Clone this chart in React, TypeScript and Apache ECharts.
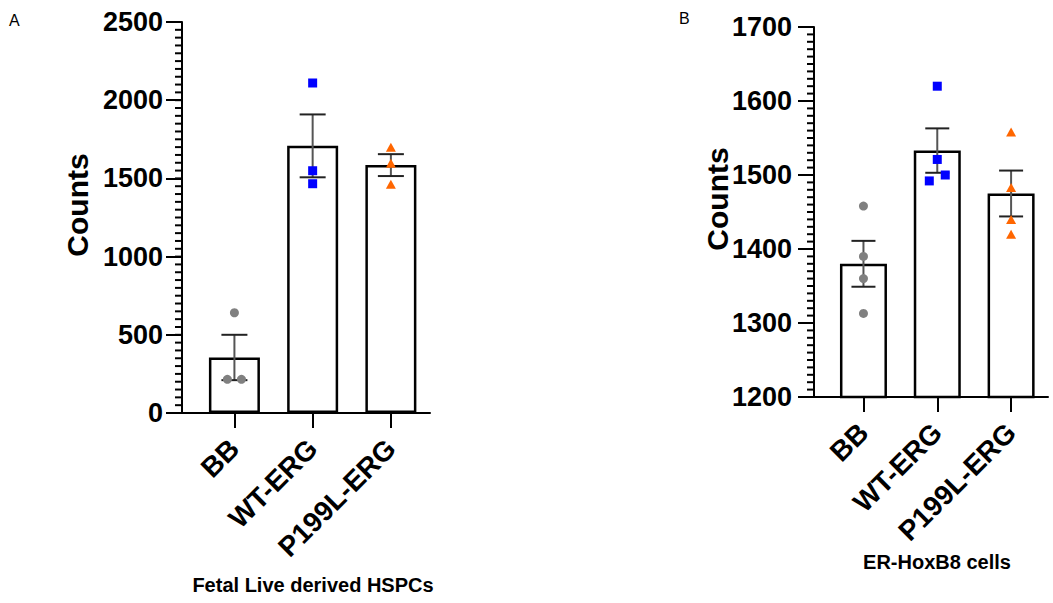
import React, { useEffect, useRef } from "react";
import * as echarts from "echarts";

// ---- Data ----
const categories = ["BB", "WT-ERG", "P199L-ERG"];
const categoryPos = [1, 2, 3];
const xRange = { min: 0.33, max: 3.5 };

// Panel A: Fetal Live derived HSPCs
const meanA = [355, 1708, 1585];
const semA = [145, 201, 70];
const pointsA_BB = [641, 215, 215];
const pointsA_WT = [2110, 1549, 1466];
const pointsA_P199L = [1699, 1597, 1462];
const jitterA_BB = [0, -0.09, 0.09];
const jitterA_WT = [0, 0, 0];
const jitterA_P199L = [0, 0, 0];
const yTicksA = { min: 0, max: 2500, interval: 500, minorStep: 50 };

// Panel B: ER-HoxB8 cells
const meanB = [1380, 1533, 1475];
const semB = [31, 30, 31];
const pointsB_BB = [1458, 1390, 1360, 1313];
const pointsB_WT = [1620, 1521, 1500, 1492];
const pointsB_P199L = [1558, 1483, 1440, 1420];
const jitterB_BB = [0, 0, 0, 0];
const jitterB_WT = [0, 0, 0.108, -0.108];
const jitterB_P199L = [0, 0, 0, 0];
const yTicksB = { min: 1200, max: 1700, interval: 100, minorStep: 10 };

const FONT = "Arial, 'Liberation Sans', Helvetica, sans-serif";

function pts(idx: number, vals: number[], jit: number[]) {
  return vals.map((v, i) => [categoryPos[idx] + jit[i], v]);
}

function minorTickValues(t: { min: number; max: number; minorStep: number }) {
  const out: number[][] = [];
  const n = Math.round((t.max - t.min) / t.minorStep);
  for (let i = 0; i <= n; i++) out.push([xRange.min, t.min + i * t.minorStep]);
  return out;
}

function makeXAxis(gridIndex: number) {
  return {
    type: "value",
    gridIndex,
    min: xRange.min,
    max: xRange.max,
    axisLine: { show: true, lineStyle: { color: "#000", width: 2 } },
    axisTick: {
      show: true,
      customValues: categoryPos,
      length: 15,
      lineStyle: { color: "#000", width: 2 },
    },
    axisLabel: {
      show: true,
      customValues: categoryPos,
      formatter: (v: number) => categories[categoryPos.indexOf(Math.round(v))] ?? "",
      rotate: 45,
      margin: 31,
      fontSize: 28,
      fontWeight: "bold",
      fontFamily: FONT,
      color: "#000",
    },
    splitLine: { show: false },
    minorTick: { show: false },
  };
}

function makeYAxis(gridIndex: number, t: { min: number; max: number; interval: number }, margin: number) {
  return {
    type: "value",
    gridIndex,
    position: "left",
    min: t.min,
    max: t.max,
    interval: t.interval,
    axisLine: { show: true, lineStyle: { color: "#000", width: 2 } },
    axisTick: { show: true, length: 16, lineStyle: { color: "#000", width: 2 } },
    axisLabel: {
      margin,
      fontSize: 27,
      fontWeight: "bold",
      fontFamily: FONT,
      color: "#000",
      formatter: (v: number) => String(v),
    },
    splitLine: { show: false },
  };
}

function minorTickSeries(axisIdx: number, t: { min: number; max: number; minorStep: number }) {
  return {
    type: "custom",
    xAxisIndex: axisIdx,
    yAxisIndex: axisIdx,
    z: 5,
    silent: true,
    clip: false,
    data: minorTickValues(t),
    renderItem: (params: any, api: any) => {
      const p = api.coord([api.value(0), api.value(1)]);
      return {
        type: "line",
        shape: { x1: p[0] - 7, y1: p[1], x2: p[0], y2: p[1] },
        style: { stroke: "#000", lineWidth: 2 },
      };
    },
  };
}

function axisLineSeries(axisIdx: number, t: { min: number; max: number }) {
  return {
    type: "custom",
    xAxisIndex: axisIdx,
    yAxisIndex: axisIdx,
    z: 5,
    silent: true,
    clip: false,
    data: [[xRange.min, t.min, t.max]],
    renderItem: (params: any, api: any) => {
      const a = api.coord([api.value(0), api.value(1)]);
      const b = api.coord([api.value(0), api.value(2)]);
      return {
        type: "line",
        shape: { x1: a[0], y1: a[1] + 1, x2: b[0], y2: b[1] },
        style: { stroke: "#000", lineWidth: 2 },
      };
    },
  };
}

function errorSeries(axisIdx: number, means: number[], sems: number[], capHalf: number) {
  return {
    type: "custom",
    xAxisIndex: axisIdx,
    yAxisIndex: axisIdx,
    z: 3,
    data: means.map((m, i) => [categoryPos[i], m - sems[i], m + sems[i]]),
    renderItem: (params: any, api: any) => {
      const x = api.value(0);
      const lo = api.coord([x, api.value(1)]);
      const hi = api.coord([x, api.value(2)]);
      return {
        type: "group",
        children: [
          {
            type: "line",
            shape: { x1: lo[0], y1: lo[1], x2: hi[0], y2: hi[1] },
            style: { stroke: "#555", lineWidth: 2 },
          },
          {
            type: "line",
            shape: { x1: hi[0] - capHalf, y1: hi[1], x2: hi[0] + capHalf, y2: hi[1] },
            style: { stroke: "#222", lineWidth: 2 },
          },
          {
            type: "line",
            shape: { x1: lo[0] - capHalf, y1: lo[1], x2: lo[0] + capHalf, y2: lo[1] },
            style: { stroke: "#222", lineWidth: 2 },
          },
        ],
      };
    },
  };
}

function barSeries(axisIdx: number, means: number[], width: number) {
  return {
    type: "bar",
    xAxisIndex: axisIdx,
    yAxisIndex: axisIdx,
    barWidth: width,
    z: 2,
    data: means.map((m, i) => [categoryPos[i], m]),
    itemStyle: { color: "#fff", borderColor: "#000", borderWidth: 2.5 },
  };
}

function scatterSeries(axisIdx: number, data: number[][], symbol: string, size: any, color: string) {
  return {
    type: "scatter",
    xAxisIndex: axisIdx,
    yAxisIndex: axisIdx,
    z: 4,
    symbol,
    symbolSize: size,
    itemStyle: { color, opacity: 1 },
    data,
  };
}

export default function App() {
  const ref = useRef<HTMLDivElement>(null);
  useEffect(() => {
    if (!ref.current) return;
    const chart = echarts.init(ref.current, undefined, { renderer: "svg" });
    const option: any = {
      animation: false,
      backgroundColor: "#fff",
      grid: [
        { left: 182, top: 22, width: 248, height: 391 },
        { left: 814, top: 27, width: 234, height: 370 },
      ],
      xAxis: [makeXAxis(0), makeXAxis(1)],
      yAxis: [makeYAxis(0, yTicksA, 19), makeYAxis(1, yTicksB, 22)],
      series: [
        barSeries(0, meanA, 51),
        errorSeries(0, meanA, semA, 13),
        scatterSeries(0, pts(0, pointsA_BB, jitterA_BB), "circle", 9, "#808080"),
        scatterSeries(0, pts(1, pointsA_WT, jitterA_WT), "rect", 9, "#0000ff"),
        scatterSeries(0, pts(2, pointsA_P199L, jitterA_P199L), "triangle", [10, 9], "#ff6600"),
        minorTickSeries(0, yTicksA),
        axisLineSeries(0, yTicksA),
        barSeries(1, meanB, 47),
        errorSeries(1, meanB, semB, 12),
        scatterSeries(1, pts(0, pointsB_BB, jitterB_BB), "circle", 9, "#808080"),
        scatterSeries(1, pts(1, pointsB_WT, jitterB_WT), "rect", 9, "#0000ff"),
        scatterSeries(1, pts(2, pointsB_P199L, jitterB_P199L), "triangle", [10, 9], "#ff6600"),
        minorTickSeries(1, yTicksB),
        axisLineSeries(1, yTicksB),
      ],
      graphic: [
        { type: "text", left: 9, top: 12, style: { text: "A", fontSize: 16, fontFamily: FONT, fill: "#000" } },
        { type: "text", left: 679, top: 10, style: { text: "B", fontSize: 16, fontFamily: FONT, fill: "#000" } },
        {
          type: "text",
          x: 77,
          y: 205,
          rotation: Math.PI / 2,
          style: { text: "Counts", fontSize: 30, fontWeight: "bold", fontFamily: FONT, fill: "#000", align: "center", verticalAlign: "middle" },
        },
        {
          type: "text",
          x: 717,
          y: 199,
          rotation: Math.PI / 2,
          style: { text: "Counts", fontSize: 30, fontWeight: "bold", fontFamily: FONT, fill: "#000", align: "center", verticalAlign: "middle" },
        },
        {
          type: "text",
          x: 313,
          y: 585,
          style: { text: "Fetal Live derived HSPCs", fontSize: 20, fontWeight: "bold", fontFamily: FONT, fill: "#000", align: "center", verticalAlign: "middle" },
        },
        {
          type: "text",
          x: 937,
          y: 562,
          style: { text: "ER-HoxB8 cells", fontSize: 20, fontWeight: "bold", fontFamily: FONT, fill: "#000", align: "center", verticalAlign: "middle" },
        },
      ],
    };
    chart.setOption(option);
    return () => chart.dispose();
  }, []);
  return (
    <div
      ref={ref}
      style={{ position: "absolute", left: 0, top: 0, width: 1053, height: 603, background: "#fff" }}
    />
  );
}
